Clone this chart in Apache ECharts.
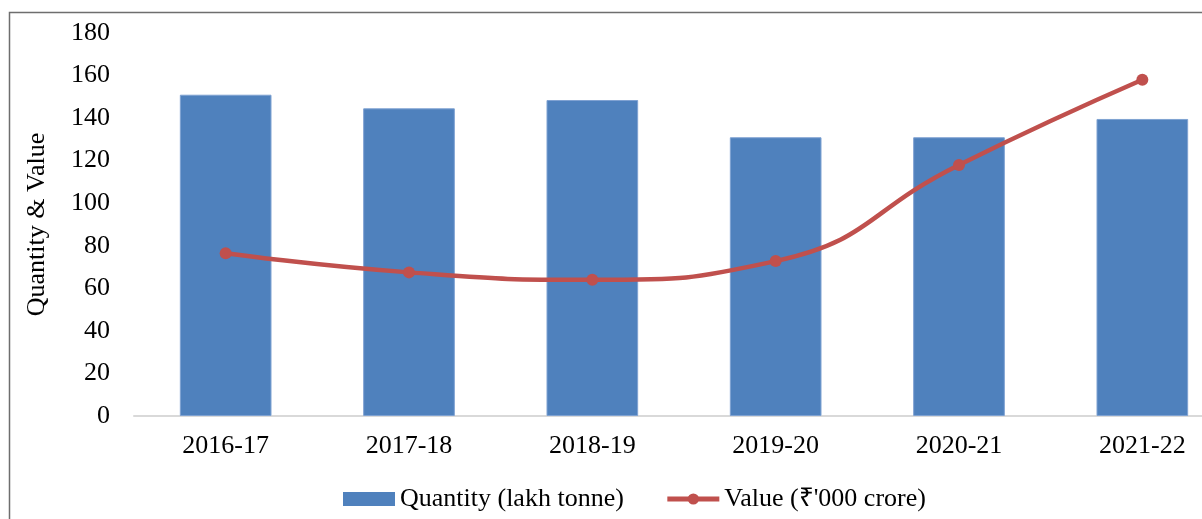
<!DOCTYPE html>
<html>
<head>
<meta charset="utf-8">
<script src="https://cdn.jsdelivr.net/npm/echarts@6/dist/echarts.min.js"></script>
<style>
  html, body { margin: 0; padding: 0; background: #fff; }
  #chart { width: 1202px; height: 519px; }
</style>
</head>
<body>
<div id="chart"></div>
<script>
const years = ["2016-17", "2017-18", "2018-19", "2019-20", "2020-21", "2021-22"];
const quantity = [151, 144.6, 148.5, 131, 131, 139.6];
const value = [76.5, 67.5, 64, 72.8, 118, 158];
const yTicks = { min: 0, max: 180, step: 20 };

const font = "'Liberation Serif', 'Times New Roman', serif";
const chart = echarts.init(document.getElementById("chart"));

chart.setOption({
  backgroundColor: "#fff",
  animation: false,
  textStyle: { fontFamily: font, color: "#000" },
  graphic: [
    {
      type: "rect",
      shape: { x: 9.5, y: 12.5, width: 1300, height: 600 },
      style: { fill: "none", stroke: "#6e6e6e", lineWidth: 1.5 },
      silent: true
    }
  ],
  grid: { left: 134, top: 33, width: 1100, height: 383, outerBoundsMode: "none", containLabel: false },
  legend: {
    bottom: 2,
    left: 338,
    itemWidth: 52,
    itemHeight: 14,
    itemGap: 41,
    textStyle: { fontFamily: font, fontSize: 26, color: "#000" },
    data: [
      { name: "Quantity (lakh tonne)", icon: "rect", itemStyle: { borderWidth: 0 } },
      { name: "Value (₹'000 crore)", lineStyle: { width: 5 } }
    ]
  },
  xAxis: {
    type: "category",
    data: years,
    axisLine: { lineStyle: { color: "#d9d9d9", width: 2 } },
    axisTick: { show: false },
    axisLabel: { fontFamily: font, fontSize: 26, color: "#000", margin: 17 }
  },
  yAxis: {
    type: "value",
    min: yTicks.min,
    max: yTicks.max,
    interval: yTicks.step,
    name: "Quantity & Value",
    nameLocation: "middle",
    nameGap: 84,
    nameTextStyle: { fontFamily: font, fontSize: 26, color: "#000" },
    axisLine: { show: false },
    axisTick: { show: false },
    splitLine: { show: false },
    axisLabel: { fontFamily: font, fontSize: 26, color: "#000", margin: 24 }
  },
  series: [
    {
      name: "Quantity (lakh tonne)",
      type: "bar",
      data: quantity,
      barWidth: "50%",
      itemStyle: { color: "#4f81bd", borderColor: "#7fa2d2", borderWidth: 1 }
    },
    {
      name: "Value (₹'000 crore)",
      type: "line",
      data: value,
      smooth: 0.5,
      symbol: "circle",
      symbolSize: 12,
      lineStyle: { color: "#c0504d", width: 4.5 },
      itemStyle: { color: "#c0504d" }
    }
  ]
});
</script>
</body>
</html>
